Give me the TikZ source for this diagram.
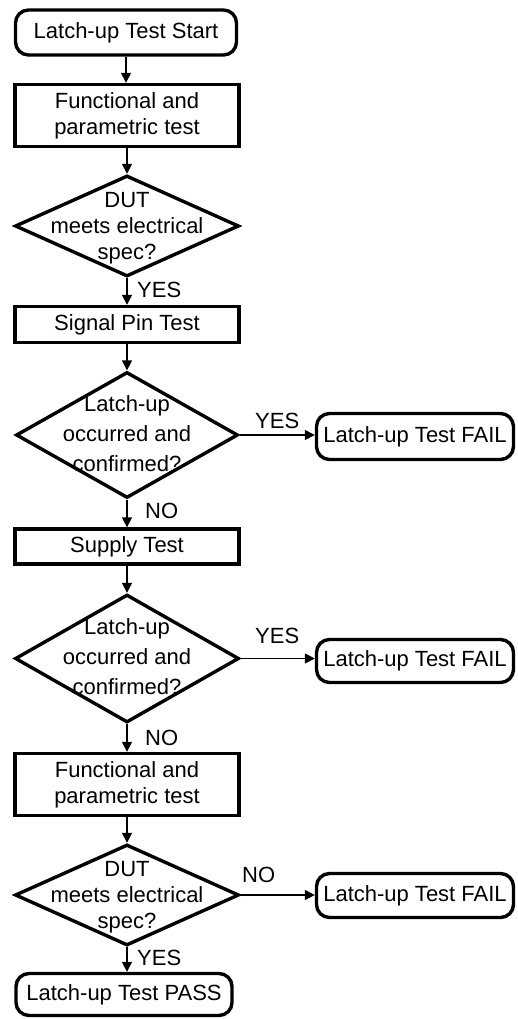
\documentclass[tikz,border=0pt]{standalone}
\usepackage{fontspec}
\setmainfont{Liberation Sans}
\usetikzlibrary{shapes.geometric,arrows.meta}

\begin{document}
\begin{tikzpicture}[x=1pt,y=-1pt,
  every node/.style={font=\fontsize{22}{26}\selectfont, inner sep=0pt},
  procbox/.style={draw, line width=3.4pt, rectangle, minimum width=224pt, align=center},
  termbox/.style={draw, line width=3.4pt, rectangle, rounded corners=13pt, align=center},
  decision/.style={draw, line width=3.4pt, diamond, inner sep=0pt},
  dtext/.style={align=center},
  dtextwide/.style={align=center, font=\fontsize{22}{30}\selectfont},
  lbl/.style={anchor=base west},
  arr/.style={line width=1.6pt, -{Triangle[length=10pt,width=10pt]}}
]
\useasboundingbox (0,0) rectangle (517,1019);

% main column
\node[termbox, minimum width=221pt, minimum height=45pt] (start) at (126,32.5) {Latch-up Test Start};
\node[procbox, minimum height=62pt] (f1) at (127,115.5) {Functional and\\parametric test};
\node[decision, minimum width=224pt, minimum height=101pt] (d1) at (127,226) {};
\node[dtext] (d1t) at (127,228) {DUT\\meets electrical\\spec?};
\node[procbox, minimum height=36pt] (sp) at (127,324.5) {Signal Pin Test};
\node[decision, minimum width=222pt, minimum height=126pt] (d2) at (127,435) {};
\node[dtextwide] (d2t) at (127,434) {Latch-up\\occurred and\\confirmed?};
\node[procbox, minimum height=35pt] (su) at (127,546.5) {Supply Test};
\node[decision, minimum width=224pt, minimum height=128pt] (d3) at (127,658.5) {};
\node[dtextwide] (d3t) at (127,657) {Latch-up\\occurred and\\confirmed?};
\node[procbox, minimum height=62pt] (f2) at (127,784.5) {Functional and\\parametric test};
\node[decision, minimum width=224pt, minimum height=101pt] (d4) at (127,895) {};
\node[dtext] (d4t) at (127,897) {DUT\\meets electrical\\spec?};
\node[termbox, minimum width=216pt, minimum height=42pt] (pass) at (124,994.5) {Latch-up Test PASS};

% failure exits
\node[termbox, minimum width=197pt, minimum height=46pt] (fail1) at (415,436.5) {Latch-up Test FAIL};
\node[termbox, minimum width=197pt, minimum height=43pt] (fail2) at (415,661) {Latch-up Test FAIL};
\node[termbox, minimum width=197pt, minimum height=44pt] (fail3) at (415,895.5) {Latch-up Test FAIL};

% connectors
\draw[arr] (start.south) -- (start.south |- f1.north);
\draw[arr] (f1.south) -- (d1.north);
\draw[arr] (d1.south) -- (sp.north);
\draw[arr] (sp.south) -- (d2.north);
\draw[arr] (d2.south) -- (su.north);
\draw[arr] (su.south) -- (d3.north);
\draw[arr] (d3.south) -- (f2.north);
\draw[arr] (f2.south) -- (d4.north);
\draw[arr] (d4.south) -- (d4.south |- pass.north);
\draw[arr] (d2.east) -- (fail1.west |- d2.east);
\draw[arr] (d3.east) -- (fail2.west |- d3.east);
\draw[arr] (d4.east) -- (fail3.west |- d4.east);

% branch labels
\node[lbl] (y1) at (137,297) {YES};
\node[lbl] (y2) at (255,428) {YES};
\node[lbl] (n2) at (145,518) {NO};
\node[lbl] (y3) at (255,643) {YES};
\node[lbl] (n3) at (145,745) {NO};
\node[lbl] (n4) at (242,882) {NO};
\node[lbl] (y4) at (137,965) {YES};
\end{tikzpicture}
\end{document}
